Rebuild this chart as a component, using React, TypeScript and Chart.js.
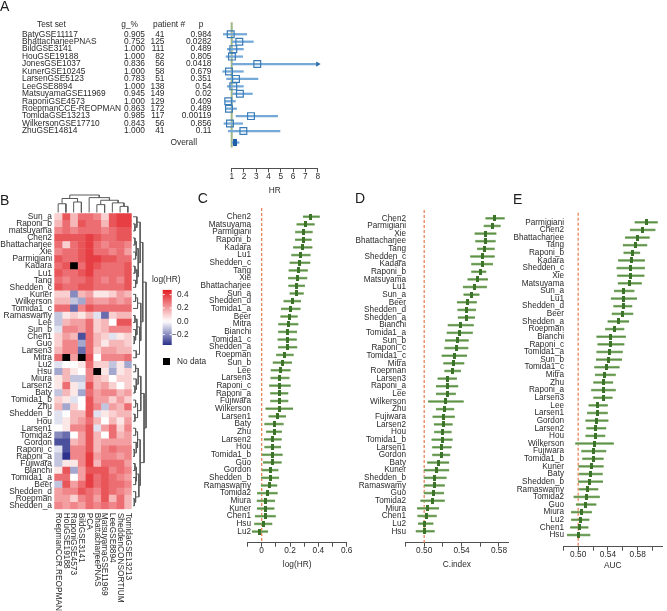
import React, { useEffect, useRef } from 'react';
import { Chart, registerables } from 'chart.js';

Chart.register(...registerables);

type Tree = number | [number, Tree, Tree];

const FONT = '"Liberation Sans", Arial, Helvetica, sans-serif';
const TEXT = '#2a2a2a';
const AXIS = '#505050';
const DENDRO = '#5a5a5a';

// ---------------- Panel A data ----------------
const A_STUDIES = ['BatyGSE11117', 'BhattacharjeePNAS', 'BildGSE3141', 'HouGSE19188', 'JonesGSE1037', 'KunerGSE10245', 'LarsenGSE5123', 'LeeGSE8894', 'MatsuyamaGSE11969', 'RaponiGSE4573', 'RoepmanCCE-REOPMAN', 'TomidaGSE13213', 'WilkersonGSE17710', 'ZhuGSE14814'];
const A_GPCT = ['0.905', '0.752', '1.000', '1.000', '0.836', '1.000', '0.783', '1.000', '0.945', '1.000', '0.863', '0.985', '0.843', '1.000'];
const A_PATIENTS = [41, 125, 111, 82, 56, 58, 51, 138, 149, 129, 172, 117, 56, 41];
const A_P = ['0.984', '0.0282', '0.489', '0.805', '0.0418', '0.679', '0.351', '0.54', '0.02', '0.409', '0.489', '0.00119', '0.856', '0.11'];
const A_HR = [0.92, 1.62, 1.13, 1.02, 3.08, 0.78, 1.35, 1.13, 1.67, 0.72, 0.78, 2.57, 0.86, 1.95];
const A_LO = [0.32, 1.05, 0.64, 0.54, 1.04, 0.27, 0.59, 0.64, 1.08, 0.46, 0.51, 1.35, 0.37, 0.72];
const A_HI = [2.22, 2.76, 1.95, 1.89, 12.5, 1.95, 3.14, 1.95, 2.68, 1.3, 1.4, 4.74, 1.89, 4.93];
const A_OVERALL_HR = 1.24;
const A_OVERALL_LO = 1.05;
const A_OVERALL_HI = 1.6;
const A_TICKS = [1, 2, 3, 4, 5, 6, 7, 8];

// ---------------- Panel B data ----------------
const B_ROWS = ['Sun_a', 'Raponi_b', 'matsuyama', 'Chen2', 'Bhattacharjee', 'Xie', 'Parmigiani', 'Kadara', 'Lu1', 'Tang', 'Shedden_c', 'Kuner', 'Wilkerson', 'Tomida1_c', 'Ramaswamy', 'Lee', 'Sun_b', 'Chen1', 'Guo', 'Larsen3', 'Mitra', 'Lu2', 'Hsu', 'Miura', 'Larsen2', 'Baty', 'Tomida1_b', 'Zhu', 'Shedden_b', 'Hou', 'Larsen1', 'Tomida2', 'Gordon', 'Raponi_c', 'Raponi_a', 'Fujiwara', 'Bianchi', 'Tomida1_a', 'Beer', 'Shedden_d', 'Roepman', 'Shedden_a'];
const B_COLS = ['RoepmanCCR.REOPMAN', 'HouGSE19188', 'RaponiGSE4573', 'BildGSE3141', 'PCA', 'BhattacharjeePNAS', 'MatsuyamaGSE11969', 'LeeGSE8894', 'SheddenCONSORTIUM', 'TomidaGSE13213'];
const B_VALUES: (number | null)[][] = [
  [0.10, 0.35, 0.15, 0.30, 0.30, 0.25, 0.10, 0.35, 0.40, 0.40],
  [0.15, 0.30, 0.15, 0.35, 0.30, 0.30, 0.15, 0.35, 0.40, 0.40],
  [0.25, 0.30, 0.25, 0.30, 0.30, 0.30, 0.25, 0.30, 0.35, 0.35],
  [0.35, 0.35, 0.35, 0.35, 0.40, 0.35, 0.30, 0.30, 0.35, 0.35],
  [0.30, 0.10, 0.30, 0.35, 0.40, 0.30, 0.25, 0.30, 0.30, 0.25],
  [0.25, 0.30, 0.30, 0.35, 0.40, 0.30, 0.30, 0.25, 0.30, 0.20],
  [0.35, 0.30, 0.30, 0.35, 0.40, 0.40, 0.35, 0.35, 0.30, 0.30],
  [0.30, 0.35, null, 0.30, 0.40, 0.35, 0.30, 0.30, 0.30, 0.35],
  [0.35, 0.30, 0.30, 0.35, 0.40, 0.30, 0.30, 0.30, 0.30, 0.35],
  [0.30, 0.25, 0.30, 0.30, 0.35, 0.30, 0.25, 0.30, 0.25, 0.35],
  [0.35, 0.30, 0.30, 0.35, 0.35, 0.30, 0.30, 0.30, 0.30, 0.35],
  [0.10, 0.10, -0.20, 0.15, 0.20, 0.05, 0.05, 0.10, 0.20, 0.15],
  [0.15, 0.15, -0.10, -0.15, 0.25, 0.20, 0.20, 0.25, 0.20, 0.25],
  [0.30, 0.30, -0.25, 0.25, 0.35, 0.30, 0.30, 0.30, 0.30, 0.30],
  [-0.10, 0.05, 0.10, 0.05, 0.15, -0.05, -0.25, 0.10, 0.15, 0.15],
  [-0.10, 0.15, 0.20, 0.20, 0.30, 0.10, 0.15, 0.00, 0.35, 0.35],
  [-0.05, 0.25, 0.25, 0.20, 0.30, 0.10, 0.15, 0.25, 0.25, 0.25],
  [0.10, 0.20, 0.15, -0.30, 0.30, 0.15, 0.10, -0.05, 0.05, 0.10],
  [0.10, 0.25, 0.25, -0.15, 0.30, 0.15, 0.05, 0.15, 0.15, 0.10],
  [0.15, 0.25, 0.25, -0.25, 0.30, 0.10, 0.20, 0.20, 0.15, 0.15],
  [0.30, null, 0.20, null, 0.35, 0.00, 0.25, 0.25, 0.25, 0.30],
  [-0.05, 0.00, 0.00, 0.05, 0.30, 0.10, 0.10, -0.10, 0.05, -0.15],
  [-0.15, 0.15, 0.05, 0.00, 0.25, null, 0.05, -0.15, 0.05, 0.10],
  [0.05, 0.15, -0.10, -0.10, 0.25, 0.15, 0.10, 0.00, 0.10, 0.10],
  [0.05, 0.30, 0.05, -0.05, 0.35, 0.15, 0.20, 0.10, 0.00, 0.10],
  [-0.10, 0.15, 0.05, -0.15, 0.30, 0.20, 0.25, 0.25, 0.15, 0.20],
  [0.10, 0.05, -0.05, 0.00, 0.35, 0.20, 0.20, 0.10, 0.20, 0.10],
  [0.15, -0.15, 0.10, 0.00, 0.35, 0.25, -0.10, 0.20, 0.15, 0.30],
  [-0.05, 0.00, 0.15, 0.15, 0.35, -0.05, 0.05, 0.10, 0.15, 0.15],
  [-0.05, 0.05, 0.15, 0.20, 0.30, 0.15, 0.00, 0.15, 0.05, 0.20],
  [0.00, 0.05, 0.25, 0.25, 0.35, -0.05, 0.20, 0.30, 0.10, 0.25],
  [-0.20, -0.25, 0.00, 0.20, 0.35, 0.15, 0.00, 0.30, 0.15, 0.20],
  [-0.30, -0.30, 0.15, 0.20, 0.35, 0.15, 0.20, 0.20, 0.20, 0.20],
  [-0.05, -0.30, 0.25, 0.25, 0.35, 0.15, 0.25, 0.30, 0.25, 0.25],
  [-0.10, -0.35, 0.25, 0.25, 0.40, 0.20, 0.25, 0.25, 0.20, 0.25],
  [-0.10, 0.05, 0.05, 0.25, 0.40, 0.15, 0.30, 0.30, 0.30, 0.20],
  [0.05, 0.35, -0.15, 0.20, 0.35, 0.35, 0.35, 0.25, 0.30, 0.25],
  [0.30, 0.30, 0.00, 0.20, 0.40, 0.30, 0.35, 0.30, 0.25, 0.20],
  [-0.10, 0.35, 0.20, 0.30, 0.40, 0.30, 0.35, 0.30, 0.30, 0.25],
  [0.20, 0.25, 0.25, 0.35, 0.30, 0.25, 0.35, 0.30, 0.25, 0.20],
  [0.20, 0.20, 0.10, 0.25, 0.30, 0.20, 0.35, 0.15, 0.30, 0.15],
  [0.25, 0.20, 0.25, 0.20, 0.30, 0.25, 0.30, 0.25, 0.30, 0.15],
];
const B_LEGEND_TICKS = [0.4, 0.2, 0.0, -0.2];
const B_COLOR_MIN = -0.355;
const B_COLOR_MAX = 0.47;
// dendrograms: [height, left, right]; leaves are row / column indices in display order
const B_ROW_TREE: Tree = [1.0,
  [0.75,
    [0.55, [0.3, 0, [0.15, 1, 2]], [0.4, [0.25, [0.15, 3, 4], [0.2, 5, 6]], [0.3, [0.15, 7, 8], [0.2, 9, 10]]]],
    [0.6, [0.35, [0.2, 11, 12], 13], [0.5, [0.3, [0.15, 14, 15], [0.2, 16, [0.1, 17, 18]]], [0.25, 19, 20]]]],
  [0.85,
    [0.6, [0.4, [0.2, 21, 22], [0.25, 23, [0.15, 24, 25]]], [0.35, [0.2, 26, 27], [0.15, 28, 29]]],
    [0.55, [0.35, [0.2, 30, 31], [0.25, 32, [0.1, 33, 34]]], [0.45, [0.25, [0.15, 35, 36], [0.2, 37, 38]], [0.2, 39, [0.1, 40, 41]]]]]];
const B_COL_TREE: Tree = [1.0,
  [0.8, [0.5, 0, 1], [0.6, 2, 3]],
  [0.85, 4, [0.7, [0.45, 5, 6], [0.55, 7, [0.35, 8, 9]]]]];

// ---------------- Panel C data (log(HR)) ----------------
const C_NAMES = ['Chen2', 'Matsuyama', 'Parmigiani', 'Raponi_b', 'Kadara', 'Lu1', 'Shedden_c', 'Tang', 'Xie', 'Bhattacharjee', 'Sun_a', 'Shedden_d', 'Tomida1_a', 'Beer', 'Mitra', 'Bianchi', 'Tomida1_c', 'Shedden_a', 'Roepman', 'Sun_b', 'Lee', 'Larsen3', 'Raponi_c', 'Raponi_a', 'Fujiwara', 'Wilkerson', 'Larsen1', 'Baty', 'Zhu', 'Larsen2', 'Hou', 'Tomida1_b', 'Guo', 'Gordon', 'Shedden_b', 'Ramaswamy', 'Tomida2', 'Miura', 'Kuner', 'Chen1', 'Hsu', 'Lu2'];
const C_EST = [0.348, 0.31, 0.298, 0.294, 0.29, 0.277, 0.27, 0.258, 0.254, 0.247, 0.247, 0.216, 0.205, 0.193, 0.188, 0.183, 0.18, 0.183, 0.164, 0.146, 0.134, 0.129, 0.129, 0.124, 0.124, 0.129, 0.11, 0.087, 0.087, 0.078, 0.078, 0.075, 0.075, 0.059, 0.059, 0.052, 0.04, 0.03, 0.028, 0.026, 0.011, -0.012];
const C_LO = [0.294, 0.249, 0.239, 0.238, 0.225, 0.212, 0.2, 0.193, 0.189, 0.191, 0.2, 0.157, 0.139, 0.135, 0.12, 0.119, 0.115, 0.118, 0.105, 0.081, 0.067, 0.065, 0.056, 0.063, 0.063, 0.03, 0.051, 0.022, 0.034, 0.018, 0.022, 0.005, 0.012, 0.003, -0.002, -0.003, -0.03, -0.032, -0.031, -0.045, -0.05, -0.066];
const C_HI = [0.407, 0.371, 0.357, 0.35, 0.355, 0.342, 0.34, 0.323, 0.319, 0.303, 0.294, 0.275, 0.271, 0.251, 0.256, 0.247, 0.245, 0.248, 0.223, 0.211, 0.201, 0.193, 0.202, 0.185, 0.185, 0.219, 0.169, 0.152, 0.14, 0.138, 0.134, 0.145, 0.138, 0.115, 0.12, 0.107, 0.11, 0.092, 0.087, 0.097, 0.072, 0.042];
const C_TICKS = [-0.1, 0, 0.1, 0.2, 0.3, 0.4, 0.5, 0.6];

// ---------------- Panel D data (C.index) ----------------
const D_NAMES = ['Chen2', 'Parmigiani', 'Xie', 'Bhattacharjee', 'Tang', 'Shedden_c', 'Kadara', 'Raponi_b', 'Matsuyama', 'Lu1', 'Sun_a', 'Beer', 'Shedden_d', 'Shedden_a', 'Bianchi', 'Tomida1_a', 'Sun_b', 'Raponi_c', 'Tomida1_c', 'Mitra', 'Roepman', 'Larsen3', 'Raponi_a', 'Lee', 'Wilkerson', 'Zhu', 'Fujiwara', 'Larsen2', 'Hou', 'Tomida1_b', 'Larsen1', 'Gordon', 'Baty', 'Kuner', 'Shedden_b', 'Ramaswamy', 'Guo', 'Tomida2', 'Miura', 'Chen1', 'Lu2', 'Hsu'];
const D_EST = [0.5757, 0.5732, 0.566, 0.5652, 0.5641, 0.5624, 0.5624, 0.5598, 0.557, 0.554, 0.5505, 0.5462, 0.5454, 0.5454, 0.5389, 0.5382, 0.5354, 0.5346, 0.5324, 0.5317, 0.5306, 0.5252, 0.5245, 0.5245, 0.523, 0.522, 0.5209, 0.5202, 0.5195, 0.5191, 0.5184, 0.518, 0.5148, 0.513, 0.5111, 0.5108, 0.5101, 0.509, 0.5036, 0.5022, 0.5008, 0.5];
const D_LO = [0.566, 0.5641, 0.5544, 0.5551, 0.557, 0.5497, 0.5508, 0.5508, 0.5468, 0.5418, 0.5425, 0.5354, 0.536, 0.5364, 0.5256, 0.5245, 0.5227, 0.522, 0.5191, 0.5209, 0.522, 0.5148, 0.513, 0.513, 0.5046, 0.513, 0.5094, 0.5108, 0.5111, 0.5083, 0.509, 0.509, 0.5036, 0.5, 0.5, 0.5, 0.5, 0.4964, 0.4928, 0.4932, 0.4938, 0.4914];
const D_HI = [0.5857, 0.5814, 0.5768, 0.576, 0.575, 0.575, 0.5732, 0.566, 0.5678, 0.5667, 0.5587, 0.5559, 0.5551, 0.554, 0.5526, 0.5516, 0.5472, 0.5468, 0.5454, 0.5425, 0.5389, 0.5346, 0.536, 0.5335, 0.5418, 0.5317, 0.5324, 0.53, 0.5289, 0.53, 0.5289, 0.5274, 0.5263, 0.5263, 0.5235, 0.5216, 0.5209, 0.5216, 0.5155, 0.513, 0.5094, 0.5108];
const D_TICKS = [0.48, 0.5, 0.52, 0.54, 0.56, 0.58];

// ---------------- Panel E data (AUC) ----------------
const E_NAMES = ['Parmigiani', 'Chen2', 'Bhattacharjee', 'Tang', 'Raponi_b', 'Kadara', 'Shedden_c', 'Xie', 'Matsuyama', 'Sun_a', 'Lu1', 'Shedden_d', 'Beer', 'Shedden_a', 'Roepman', 'Bianchi', 'Raponi_c', 'Tomida1_a', 'Sun_b', 'Tomida1_c', 'Mitra', 'Zhu', 'Raponi_a', 'Larsen3', 'Lee', 'Larsen1', 'Gordon', 'Larsen2', 'Hou', 'Wilkerson', 'Fujiwara', 'Tomida1_b', 'Kuner', 'Baty', 'Shedden_b', 'Ramaswamy', 'Tomida2', 'Guo', 'Miura', 'Lu2', 'Chen1', 'Hsu'];
const E_EST = [0.5914, 0.5863, 0.5799, 0.5764, 0.5726, 0.5722, 0.5709, 0.57, 0.5687, 0.5615, 0.5606, 0.5603, 0.5594, 0.5538, 0.5487, 0.5436, 0.5436, 0.5427, 0.541, 0.538, 0.5359, 0.5337, 0.5337, 0.5337, 0.5262, 0.526, 0.5252, 0.5239, 0.5231, 0.5222, 0.5209, 0.52, 0.5175, 0.5167, 0.5158, 0.5132, 0.511, 0.5098, 0.5047, 0.5026, 0.5017, 0.5];
const E_LO = [0.5765, 0.57, 0.5636, 0.5606, 0.5615, 0.5542, 0.5521, 0.553, 0.5538, 0.5487, 0.5444, 0.5478, 0.5457, 0.5401, 0.5367, 0.5251, 0.5265, 0.5251, 0.5244, 0.5222, 0.5231, 0.5209, 0.518, 0.5209, 0.5145, 0.5124, 0.5103, 0.5115, 0.5103, 0.4966, 0.5047, 0.506, 0.5008, 0.5017, 0.5004, 0.5017, 0.4944, 0.4974, 0.491, 0.491, 0.4897, 0.4854];
const E_HI = [0.6064, 0.6033, 0.5956, 0.5923, 0.5828, 0.5892, 0.5892, 0.5885, 0.585, 0.5751, 0.5786, 0.5722, 0.5735, 0.5679, 0.5615, 0.5636, 0.5615, 0.5594, 0.5585, 0.5551, 0.55, 0.5465, 0.55, 0.5457, 0.5393, 0.5393, 0.5401, 0.5372, 0.5359, 0.5474, 0.5372, 0.5337, 0.5337, 0.5325, 0.5329, 0.5265, 0.5286, 0.5239, 0.518, 0.5145, 0.5132, 0.5158];
const E_TICKS = [0.48, 0.5, 0.52, 0.54, 0.56, 0.58, 0.6];

// ---------------- helpers ----------------
const f = (size: number, lineHeight = 1) => ({ family: FONT, size, lineHeight });

function rectImage(w: number, h: number, color: string) {
  const c = document.createElement('canvas');
  c.width = w;
  c.height = h;
  const g = c.getContext('2d')!;
  g.fillStyle = color;
  g.fillRect(0, 0, w, h);
  return c;
}

function heatColor(v: number | null): string {
  if (v === null || v === undefined) return '#000000';
  const lerp = (a: number, b: number, t: number) => Math.round(a + (b - a) * t);
  if (v >= 0) {
    const t = Math.min(v / B_COLOR_MAX, 1);
    return `rgb(${lerp(255, 226, t)},${lerp(255, 28, t)},${lerp(255, 34, t)})`;
  }
  const t = Math.min(v / B_COLOR_MIN, 1);
  return `rgb(${lerp(255, 42, t)},${lerp(255, 48, t)},${lerp(255, 138, t)})`;
}

function dendroSegments(tree: Tree, leafPos: (i: number) => number) {
  const segs: { p1: number; h1: number; p2: number; h2: number; h: number }[] = [];
  const walk = (n: Tree): { p: number; h: number } => {
    if (typeof n === 'number') return { p: leafPos(n), h: 0 };
    const [h, a, b] = n;
    const A = walk(a);
    const B = walk(b);
    segs.push({ p1: A.p, h1: A.h, p2: B.p, h2: B.h, h });
    return { p: (A.p + B.p) / 2, h };
  };
  walk(tree);
  return segs;
}

function baseOptions(padding: any, scales: any) {
  return {
    responsive: false,
    animation: false,
    devicePixelRatio: 1,
    events: [],
    layout: { padding },
    plugins: { legend: { display: false }, tooltip: { enabled: false } },
    scales,
  };
}

function letterPlugin(letter: string, x: number, y: number) {
  return {
    id: 'letter' + letter,
    afterDraw(chart: any) {
      const c = chart.ctx;
      c.save();
      c.fillStyle = '#1a1a1a';
      c.font = `14px ${FONT}`;
      c.textAlign = 'left';
      c.textBaseline = 'alphabetic';
      c.fillText(letter, x, y);
      c.restore();
    },
  };
}

// ---------------- Panel A ----------------
const A_X_MAX = 8;
const A_Y_MIN = -1.617;
const A_Y_MAX = 15.83;
const A_LINE_END = 15.2;
const A_HEADER_ROW = -1.3;

function configA(): any {
  const ovRow = A_STUDIES.length + 0.55;
  const ovImg = rectImage(4, 7, '#1d5fa8');
  const ci: any[] = A_LO.map((lo, i) => ({ y: i, x: [lo, Math.min(A_HI[i], A_X_MAX)] }));
  ci.push({ y: ovRow, x: [A_OVERALL_LO, A_OVERALL_HI] });
  const arrows = A_HI.map((hi, i) => ({ hi, i })).filter((d) => d.hi > A_X_MAX).map((d) => ({ x: A_X_MAX, y: d.i }));
  const table = {
    id: 'aTable',
    afterDraw(chart: any) {
      const ctx = chart.ctx;
      const ys = chart.scales.y;
      ctx.save();
      ctx.fillStyle = TEXT;
      ctx.font = `8.4px ${FONT}`;
      ctx.textBaseline = 'middle';
      const hy = ys.getPixelForValue(A_HEADER_ROW);
      ctx.textAlign = 'left';
      ctx.fillText('Test set', 37, hy);
      ctx.textAlign = 'right';
      ctx.fillText('g_%', 138, hy);
      ctx.textAlign = 'left';
      ctx.fillText('patient #', 153, hy);
      ctx.textAlign = 'center';
      ctx.fillText('p', 201, hy);
      A_STUDIES.forEach((s, i) => {
        const y = ys.getPixelForValue(i);
        ctx.textAlign = 'left';
        ctx.fillText(s, 22, y);
        ctx.textAlign = 'right';
        ctx.fillText(A_GPCT[i], 145, y);
        ctx.fillText(String(A_PATIENTS[i]), 164.5, y);
        ctx.fillText(A_P[i], 211.5, y);
      });
      ctx.textAlign = 'right';
      ctx.fillText('Overall', 197, ys.getPixelForValue(ovRow));
      ctx.restore();
    },
  };
  return {
    type: 'scatter',
    data: {
      datasets: [
        { type: 'line', data: [{ x: 1, y: A_Y_MIN }, { x: 1, y: A_LINE_END }], borderColor: '#9fb687', borderWidth: 2, pointRadius: 0, order: 10, clip: false },
        { type: 'bar', indexAxis: 'y', data: ci, backgroundColor: '#74a9d8', barThickness: 1.6, grouped: false, order: 5, clip: false },
        { type: 'scatter', data: A_HR.map((v, i) => ({ x: v, y: i })), pointStyle: 'rect', pointRadius: 4.8, pointBorderColor: '#3a7cb8', pointBackgroundColor: 'rgba(255,255,255,0)', pointBorderWidth: 1.2, order: 1, clip: false },
        { type: 'scatter', data: [{ x: A_OVERALL_HR, y: ovRow }], pointStyle: ovImg, pointRadius: 3, order: 1, clip: false },
        { type: 'scatter', data: arrows, pointStyle: 'triangle', pointRotation: 90, pointRadius: 3, pointBackgroundColor: '#2e6ca8', pointBorderColor: '#2e6ca8', pointBorderWidth: 0, order: 0, clip: false },
      ],
    },
    options: baseOptions({ left: 231.7, right: 335 - 317.7, top: 3, bottom: 200 - 168.3 - 28 }, {
      x: {
        type: 'linear', min: 1, max: A_X_MAX, offset: false,
        afterBuildTicks: (s: any) => { s.ticks = A_TICKS.map((v) => ({ value: v })); },
        afterFit: (s: any) => { s.height = 28; },
        ticks: { autoSkip: false, maxRotation: 0, minRotation: 0, padding: 0, font: f(8.3), color: TEXT, callback: (v: number) => String(v) },
        grid: { display: true, drawOnChartArea: false, drawTicks: true, tickLength: 4, color: AXIS, offset: false },
        border: { display: true, color: AXIS, width: 1 },
        title: { display: true, text: 'HR', font: f(8.3, 1.2), color: TEXT, padding: { top: 0, bottom: 1 } },
      },
      y: { type: 'linear', reverse: true, min: A_Y_MIN, max: A_Y_MAX, display: false },
    }),
    plugins: [table, letterPlugin('A', 0, 11)],
  };
}

// ---------------- Panel B ----------------
const HM_LEFT = 54.3;
const HM_RIGHT = 131.7;
const HM_TOP = 213.3;
const HM_BOTTOM = 509.3;
const B_TOP = 190;
const B_W = 215;

function configB(): any {
  const datasets = B_COLS.map((_, j) => ({
    type: 'bar', indexAxis: 'y',
    data: B_ROWS.map((__, i) => ({ y: i, x: [j, j + 1] })),
    backgroundColor: B_ROWS.map((__, i) => heatColor(B_VALUES[i][j])),
    borderWidth: 0, grouped: false, barPercentage: 1, categoryPercentage: 1,
  }));
  const legend = {
    id: 'bLegend',
    afterDraw(chart: any) {
      const ctx = chart.ctx;
      const xs = chart.scales.x;
      const area = chart.chartArea;
      ctx.save();
      ctx.fillStyle = TEXT;
      ctx.font = `8.3px ${FONT}`;
      ctx.textAlign = 'left';
      ctx.textBaseline = 'middle';
      B_COLS.forEach((c, j) => {
        ctx.save();
        ctx.translate(xs.getPixelForValue(j + 0.5), area.bottom + 3.5);
        ctx.rotate(Math.PI / 2);
        ctx.fillText(c, 0, 0);
        ctx.restore();
      });
      const vy = (v: number) => 321.3 - B_TOP - v * 66.8;
      const lx = 162.7;
      const lw = 9;
      const top = vy(B_COLOR_MAX);
      const bot = vy(B_COLOR_MIN);
      const grad = ctx.createLinearGradient(0, top, 0, bot);
      for (let k = 0; k <= 24; k++) {
        const v = B_COLOR_MAX + ((B_COLOR_MIN - B_COLOR_MAX) * k) / 24;
        grad.addColorStop(k / 24, heatColor(v));
      }
      ctx.fillStyle = grad;
      ctx.fillRect(lx, top, lw, bot - top);
      ctx.strokeStyle = '#ffffff';
      ctx.lineWidth = 1;
      ctx.fillStyle = TEXT;
      ctx.textAlign = 'right';
      B_LEGEND_TICKS.forEach((t) => {
        const y = vy(t);
        ctx.beginPath();
        ctx.moveTo(lx, y);
        ctx.lineTo(lx + 2, y);
        ctx.moveTo(lx + lw - 2, y);
        ctx.lineTo(lx + lw, y);
        ctx.stroke();
        ctx.fillText(t.toFixed(1).replace('-', '\u2212'), 188.5, y);
      });
      ctx.textAlign = 'left';
      ctx.fillText('log(HR)', 152, 280 - B_TOP);
      ctx.fillStyle = '#000000';
      ctx.fillRect(163, 358 - B_TOP, 7, 7);
      ctx.fillStyle = TEXT;
      ctx.fillText('No data', 177, 362 - B_TOP);
      ctx.restore();
    },
  };
  return {
    type: 'scatter',
    data: { datasets },
    options: baseOptions({ left: 0, right: B_W - HM_RIGHT, top: HM_TOP - B_TOP, bottom: 421 - (HM_BOTTOM - B_TOP) }, {
      x: { type: 'linear', min: 0, max: B_COLS.length, display: false, offset: false },
      y: {
        type: 'linear', reverse: true, min: -0.5, max: B_ROWS.length - 0.5, offset: false,
        afterBuildTicks: (s: any) => { s.ticks = B_ROWS.map((__, i) => ({ value: i })); },
        afterFit: (s: any) => { s.width = HM_LEFT; },
        ticks: { autoSkip: false, padding: 2.3, font: f(8.4), color: TEXT, callback: (v: number) => B_ROWS[v] ?? '' },
        grid: { display: false, drawTicks: false },
        border: { display: false },
      },
    }),
    plugins: [legend, letterPlugin('B', 0, 15)],
  };
}

function configColDendro(): any {
  const segs = dendroSegments(B_COL_TREE, (j) => j + 0.5);
  return {
    type: 'scatter',
    data: {
      datasets: segs.map((s) => ({
        type: 'line',
        data: [{ x: s.p1, y: s.h1 }, { x: s.p1, y: s.h }, { x: s.p2, y: s.h }, { x: s.p2, y: s.h2 }],
        borderColor: DENDRO, borderWidth: 1, pointRadius: 0, clip: false, fill: false,
      })),
    },
    options: baseOptions({ left: HM_LEFT - 50, right: 136 - HM_RIGHT, top: 3, bottom: 1.5 }, {
      x: { type: 'linear', min: 0, max: B_COLS.length, display: false },
      y: { type: 'linear', min: 0, max: 1, display: false },
    }),
  };
}

function configRowDendro(): any {
  const segs = dendroSegments(B_ROW_TREE, (i) => i);
  return {
    type: 'scatter',
    data: {
      datasets: segs.map((s) => ({
        type: 'line',
        data: [{ x: s.h1, y: s.p1 }, { x: s.h, y: s.p1 }, { x: s.h, y: s.p2 }, { x: s.h2, y: s.p2 }],
        borderColor: DENDRO, borderWidth: 1, pointRadius: 0, clip: false, fill: false,
      })),
    },
    options: baseOptions({ left: 3, right: 4, top: HM_TOP - 205, bottom: 517 - HM_BOTTOM }, {
      x: { type: 'linear', min: 0, max: 1, display: false },
      y: { type: 'linear', reverse: true, min: -0.5, max: B_ROWS.length - 0.5, display: false },
    }),
  };
}

// ---------------- Panels C, D, E ----------------
function rankConfig(o: any): any {
  const pt = rectImage(3, 6, '#3b7429');
  const ci = o.names.map((_: string, i: number) => ({ y: i, x: [o.lo[i], o.hi[i]] }));
  const names = {
    id: 'rankNames' + o.letter,
    afterDraw(chart: any) {
      const ctx = chart.ctx;
      const ys = chart.scales.y;
      ctx.save();
      ctx.fillStyle = TEXT;
      ctx.font = `8.2px ${FONT}`;
      ctx.textAlign = 'right';
      ctx.textBaseline = 'middle';
      o.names.forEach((n: string, i: number) => ctx.fillText(n, chart.chartArea.left + o.labelShift, ys.getPixelForValue(i)));
      ctx.restore();
    },
  };
  return {
    type: 'scatter',
    data: {
      datasets: [
        { type: 'line', data: [{ x: o.ref, y: o.yMin }, { x: o.ref, y: o.yMax }], borderColor: '#e9845a', borderWidth: 1.3, borderDash: [3, 2], pointRadius: 0, order: 10, clip: false },
        { type: 'bar', indexAxis: 'y', data: ci, backgroundColor: '#9dbf8b', barThickness: 2, grouped: false, order: 6, clip: false },
        { type: 'bar', indexAxis: 'y', data: ci, backgroundColor: '#5e9249', barThickness: 0.8, grouped: false, order: 5, clip: false },
        { type: 'scatter', data: o.names.map((_: string, i: number) => ({ x: o.est[i], y: i })), pointStyle: pt, pointRadius: 3, order: 1, clip: false },
      ],
    },
    options: baseOptions(o.padding, {
      x: {
        type: 'linear', min: o.xMin, max: o.xMax, offset: false,
        afterBuildTicks: (s: any) => { s.ticks = o.ticks.map((v: number) => ({ value: v })); },
        afterFit: (s: any) => { s.height = o.xAxisH; },
        ticks: { autoSkip: false, maxRotation: 0, minRotation: 0, padding: 0, font: f(8.3), color: TEXT, callback: (v: number) => o.label(v) },
        grid: { display: true, drawOnChartArea: false, drawTicks: true, tickLength: 4, color: AXIS, offset: false },
        border: { display: true, color: AXIS, width: 1 },
        title: { display: true, text: o.title, font: f(8.3, 1.2), color: TEXT, padding: { top: 0, bottom: 1 } },
      },
      y: { type: 'linear', reverse: true, min: o.yMin, max: o.yMax, offset: false, display: false },
    }),
    plugins: [names, letterPlugin(o.letter, o.letterX, o.letterY)],
  };
}

const labelC = (v: number) => {
  const k = Math.round(v * 10);
  if (k < 0 || k % 2 !== 0) return '';
  return k === 0 ? '0' : (k / 10).toFixed(1);
};
const labelAUC = (v: number) => (Math.round(v * 100) % 4 === 2 ? v.toFixed(2) : '');

export default function App() {
  const refA = useRef<HTMLCanvasElement>(null);
  const refB = useRef<HTMLCanvasElement>(null);
  const refBc = useRef<HTMLCanvasElement>(null);
  const refBr = useRef<HTMLCanvasElement>(null);
  const refC = useRef<HTMLCanvasElement>(null);
  const refD = useRef<HTMLCanvasElement>(null);
  const refE = useRef<HTMLCanvasElement>(null);

  useEffect(() => {
    Chart.defaults.font.family = FONT;
    const charts: Chart[] = [];
    charts.push(new Chart(refA.current!, configA()));
    charts.push(new Chart(refB.current!, configB()));
    charts.push(new Chart(refBc.current!, configColDendro()));
    charts.push(new Chart(refBr.current!, configRowDendro()));
    charts.push(new Chart(refC.current!, rankConfig({
      names: C_NAMES, est: C_EST, lo: C_LO, hi: C_HI, xMin: -0.1, xMax: 0.6, ticks: C_TICKS, label: labelC, ref: 0,
      yMin: -1.13, yMax: 42.45, labelShift: 3.5, xAxisH: 28,
      padding: { left: 52.5, right: 8.3, top: 18, bottom: 421 - 352.7 - 28 }, title: 'log(HR)', letter: 'C', letterX: 2.7, letterY: 13.3,
    })));
    charts.push(new Chart(refD.current!, rankConfig({
      names: D_NAMES, est: D_EST, lo: D_LO, hi: D_HI, xMin: 0.48, xMax: 0.59, ticks: D_TICKS, label: labelAUC, ref: 0.5,
      yMin: -1.09, yMax: 42.5, labelShift: 0.5, xAxisH: 28,
      padding: { left: 75.5, right: 11.7, top: 20, bottom: 421 - 352.7 - 28 }, title: 'C.index', letter: 'D', letterX: 25, letterY: 13.3,
    })));
    charts.push(new Chart(refE.current!, rankConfig({
      names: E_NAMES, est: E_EST, lo: E_LO, hi: E_HI, xMin: 0.48, xMax: 0.6127, ticks: E_TICKS, label: labelAUC, ref: 0.5,
      yMin: -1.26, yMax: 42.53, labelShift: 0.7, xAxisH: 25,
      padding: { left: 83.3, right: 0.3, top: 22.7, bottom: 421 - 356.7 - 25 }, title: 'AUC', letter: 'E', letterX: 33, letterY: 14,
    })));
    return () => charts.forEach((c) => c.destroy());
  }, []);

  const abs = (left: number, top: number): React.CSSProperties => ({ position: 'absolute', left, top });

  return (
    <div style={{ position: 'absolute', left: 0, top: 0, width: 667, height: 611, background: '#ffffff', overflow: 'hidden' }}>
      <canvas ref={refA} width={335} height={200} style={abs(0, 0)} />
      <canvas ref={refB} width={B_W} height={421} style={abs(0, B_TOP)} />
      <canvas ref={refBc} width={86} height={22} style={abs(50, 192)} />
      <canvas ref={refBr} width={20} height={312} style={abs(130, 205)} />
      <canvas ref={refC} width={160} height={421} style={abs(195, 190)} />
      <canvas ref={refD} width={190} height={421} style={abs(330, 190)} />
      <canvas ref={refE} width={187} height={421} style={abs(480, 190)} />
    </div>
  );
}
